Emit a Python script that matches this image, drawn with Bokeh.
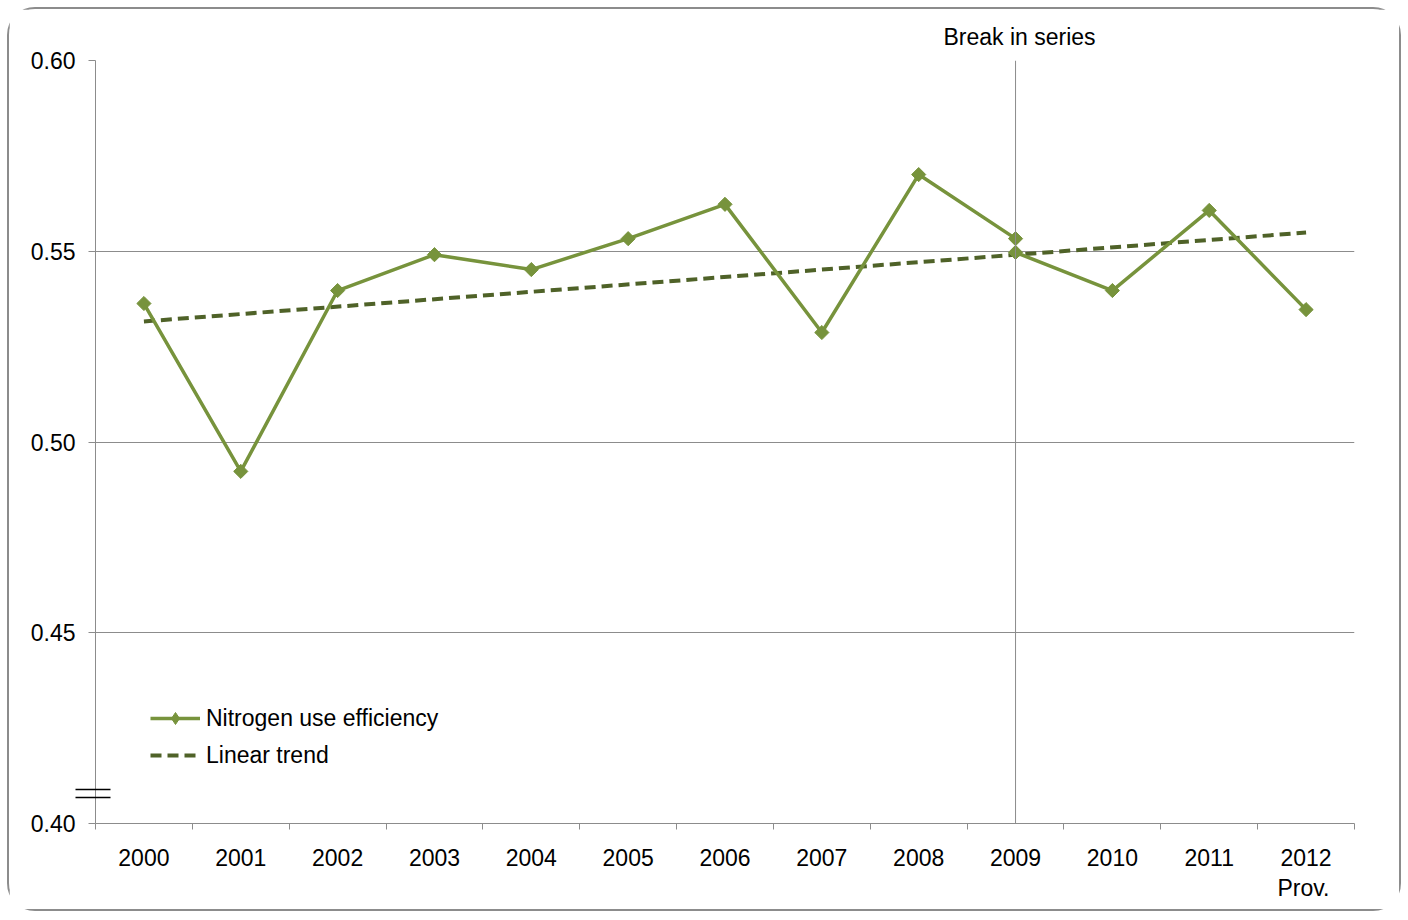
import numpy as np
from bokeh.plotting import figure
from bokeh.models import (FixedTicker, NumeralTickFormatter, Span, Legend, LegendItem,
                          Range1d, Title, ColumnDataSource)
from bokeh.embed import file_html
from bokeh.resources import INLINE

# ---- data ----
years = [2000, 2001, 2002, 2003, 2004, 2005, 2006, 2007, 2008, 2009, 2010, 2011, 2012]
nue_before_break_years = [2000, 2001, 2002, 2003, 2004, 2005, 2006, 2007, 2008, 2009]
nue_before_break = [0.5363, 0.4923, 0.5397, 0.5491, 0.5452, 0.5533, 0.5623, 0.5287, 0.5701, 0.5533]
nue_after_break_years = [2009, 2010, 2011, 2012]
nue_after_break = [0.5497, 0.5397, 0.5607, 0.5347]
trend_years = [2000, 2012]
trend_values = [0.5316, 0.5549]
y_ticks = [0.40, 0.45, 0.50, 0.55, 0.60]
axis_break_marks = [0.4068, 0.4089]
break_year = 2009

FONT = "Liberation Sans"
GREEN = "#77933C"
DARK = "#4F6228"
GRID = "#8c8c8c"
FS = "23px"

p = figure(width=1394, height=904, output_backend="svg", toolbar_location=None,
           x_range=Range1d(years[0] - 0.5, years[-1] + 0.5),
           y_range=Range1d(y_ticks[0], y_ticks[-1]),
           min_border_left=86, min_border_top=51, min_border_right=49, min_border_bottom=90)
p.styles = {"margin-left": "7px", "margin-top": "7px",
            "border": "2px solid #8c8c8c", "border-radius": "28px"}
p.outline_line_color = None
p.background_fill_color = "white"
p.border_fill_color = "white"

# "Break in series" as a title above the frame
p.title.text = "Break in series"
p.title.align = "left"
p.title.offset = 848
p.title.standoff = 22
p.title.text_font = FONT
p.title.text_font_size = FS
p.title.text_font_style = "normal"
p.title.text_color = "black"

# x axis: labels at year centres, tick marks between categories
p.xaxis.ticker = FixedTicker(ticks=years, minor_ticks=[y - 0.5 for y in years] + [years[-1] + 0.5])
p.xaxis.major_tick_out = 0
p.xaxis.major_tick_in = 0
p.xaxis.minor_tick_out = 6
p.xaxis.minor_tick_in = 0
p.xaxis.minor_tick_line_color = GRID
p.xaxis.axis_line_color = GRID
p.xaxis.major_label_standoff = 19
p.xaxis.major_label_text_font = FONT
p.xaxis.major_label_text_font_size = FS
p.xaxis.major_label_text_color = "black"
p.xaxis.major_label_overrides = {y: str(y) for y in years}

# "Prov." below the 2012 label
p.add_layout(Title(text="Prov.", align="left", offset=1182, standoff=8,
                   text_font=FONT, text_font_size=FS, text_font_style="normal",
                   text_color="black"), "below")

# y axis (minor ticks used for the axis-break marks)
p.yaxis.ticker = FixedTicker(ticks=y_ticks, minor_ticks=axis_break_marks)
p.yaxis.formatter = NumeralTickFormatter(format="0.00")
p.yaxis.major_tick_out = 7
p.yaxis.major_tick_in = 0
p.yaxis.minor_tick_out = 20
p.yaxis.minor_tick_in = 15
p.yaxis.minor_tick_line_color = "black"
p.yaxis.minor_tick_line_width = 1.5
p.yaxis.axis_line_color = GRID
p.yaxis.major_tick_line_color = GRID
p.yaxis.major_label_standoff = 0
p.yaxis.major_label_text_font = FONT
p.yaxis.major_label_text_font_size = FS
p.yaxis.major_label_text_color = "black"

p.xgrid.grid_line_color = None
p.ygrid.grid_line_color = GRID
p.ygrid.ticker = FixedTicker(ticks=y_ticks)

# break in series
p.add_layout(Span(location=break_year, dimension="height", line_color=GRID, line_width=1))

# data lines
trend = p.line(trend_years, trend_values, line_color=DARK, line_width=4, line_dash="11 6")
l1 = p.line(nue_before_break_years, nue_before_break, line_color=GREEN, line_width=3.5)
l2 = p.line(nue_after_break_years, nue_after_break, line_color=GREEN, line_width=3.5)
m1 = p.scatter(nue_before_break_years, nue_before_break, marker="square", angle=np.pi / 4,
               size=10, fill_color=GREEN, line_color=GREEN)
m2 = p.scatter(nue_after_break_years, nue_after_break, marker="square", angle=np.pi / 4,
               size=10, fill_color=GREEN, line_color=GREEN)
# legend-only diamond (no visible data)
legend_marker = p.scatter(x="x", y="y", source=ColumnDataSource(dict(x=[np.nan], y=[np.nan])),
                          marker="diamond", size=14, fill_color=GREEN, line_color=GREEN)

legend = Legend(items=[
    LegendItem(label="Nitrogen use efficiency", renderers=[l1, legend_marker]),
    LegendItem(label="Linear trend", renderers=[trend]),
], location=(55, 53))
legend.background_fill_alpha = 0
legend.border_line_color = None
legend.glyph_width = 50
legend.glyph_height = 30
legend.label_height = 20
legend.label_standoff = 6
legend.spacing = 7
legend.padding = 0
legend.margin = 0
legend.label_text_font = FONT
legend.label_text_font_size = FS
legend.label_text_color = "black"
p.add_layout(legend)

open("out.html", "w").write(file_html(p, INLINE))
